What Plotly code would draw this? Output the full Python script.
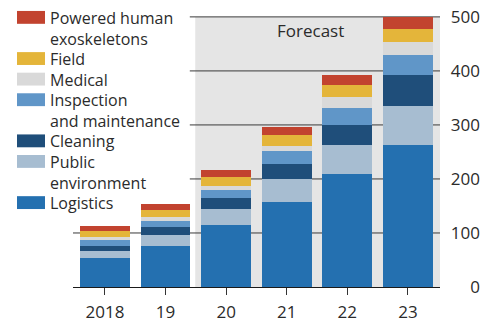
import plotly.graph_objects as go

years = ["2018", "19", "20", "21", "22", "23"]
series_names = [
    "Logistics",
    "Public environment",
    "Cleaning",
    "Inspection and maintenance",
    "Medical",
    "Field",
    "Powered human exoskeletons",
]
logistics = [53, 76, 114, 158, 209, 262]
public_env = [14, 20, 31, 42, 53, 73]
cleaning = [8, 15, 19, 27, 38, 57]
inspection = [12, 12, 16, 24, 31, 38]
medical = [6, 6, 7, 10, 21, 23]
field = [10, 13, 16, 20, 22, 24]
exoskeletons = [10, 12, 14, 15, 18, 22]
y_ticks = [0, 100, 200, 300, 400, 500]

values = [logistics, public_env, cleaning, inspection, medical, field, exoskeletons]
colors = ["#2470b0", "#a7bdd1", "#1f4e7a", "#6096c8", "#d9d9d9", "#e4b53a", "#c2432f"]
legend_labels = [
    "Logistics",
    "Public<br>environment",
    "Cleaning",
    "Inspection<br>and maintenance",
    "Medical",
    "Field",
    "Powered human<br>exoskeletons",
]

FONT = "Open Sans"
FS = 17
LFS = 16
TXT = "#2b2b2b"

# layout geometry (screen px; body margin removed below)
W, H = 493, 328
L = 73                  # plot-area left
R = 480                 # paper right edge (y labels end here)
T = 5
PLOT_BOTTOM = 289
x_dom_end = (440 - L) / (R - L)
x_pos = list(range(len(years)))
x_left, x_right = -0.528, 5.53
y_top = 500 * (PLOT_BOTTOM - T) / (PLOT_BOTTOM - 16)

def sx(px):
    return (px - L) / (R - L)

def sy(py):
    return (PLOT_BOTTOM - py) / (PLOT_BOTTOM - T)

fig = go.Figure()
for name, vals, col in zip(series_names, values, colors):
    fig.add_trace(go.Bar(
        x=x_pos, y=vals, name=name, width=0.82,
        marker=dict(color=col, line=dict(width=0)),
        showlegend=False,
    ))

shapes = []
# forecast shading
shapes.append(dict(type="rect", xref="x", yref="y", x0=1.49, x1=x_right, y0=0, y1=500,
                   fillcolor="#e5e5e5", line=dict(width=0), layer="below"))
# gridlines
for v in y_ticks[1:]:
    x0 = x_left if v == 100 else 1.40
    shapes.append(dict(type="line", xref="x", yref="y", x0=x0, x1=x_right, y0=v, y1=v,
                       line=dict(color="#3a3a3a", width=1), layer="below"))

annotations = [dict(text="Forecast", xref="x", yref="y", x=2.80, y=474, xanchor="left",
                    yanchor="middle", showarrow=False, font=dict(family=FONT, size=FS, color=TXT))]

# manual legend (top to bottom)
line_h = 20.8
first_center = 17
line_idx = 0
lsp = LFS * 1.3
for lab, col in zip(reversed(legend_labels), reversed(colors)):
    nlines = lab.count("<br>") + 1
    c = first_center + line_h * line_idx
    shapes.append(dict(type="rect", xref="paper", yref="paper",
                       x0=sx(17), x1=sx(45),
                       y0=sy(c - 0.5 + 6.5), y1=sy(c - 0.5 - 6.5),
                       fillcolor=col, line=dict(width=0)))
    block_center = c + lsp * (nlines - 1) / 2
    annotations.append(dict(text=lab, xref="paper", yref="paper", x=sx(48),
                            y=sy(block_center), xanchor="left", yanchor="middle",
                            align="left", showarrow=False,
                            font=dict(family=FONT, size=LFS, color=TXT)))
    line_idx += nlines

fig.update_layout(
    barmode="stack",
    width=W, height=H,
    margin=dict(l=L, r=W - R, t=T, b=H - PLOT_BOTTOM),
    paper_bgcolor="white", plot_bgcolor="rgba(0,0,0,0)",
    shapes=shapes, annotations=annotations,
    showlegend=False,
    hovermode=False,
    font=dict(family=FONT, size=FS, color=TXT),
    xaxis=dict(domain=[0, x_dom_end], range=[x_left, x_right], tickvals=x_pos, ticktext=years,
               ticks="outside", ticklen=7, tickcolor="#333", tickwidth=1,
               ticklabelstandoff=3,
               showgrid=False, zeroline=False, showline=True, linecolor="#1a1a1a", linewidth=1,
               tickfont=dict(family=FONT, size=FS, color=TXT)),
    yaxis=dict(range=[0, y_top], side="left", anchor="free", position=1.0, tickvals=y_ticks,
               ticks="", showgrid=False, zeroline=False, showline=False,
               ticklabeloverflow="allow",
               tickfont=dict(family=FONT, size=FS, color=TXT)),
)

fig.write_html("out.html", config={"displayModeBar": False},
               post_script="document.body.style.margin='0';")
